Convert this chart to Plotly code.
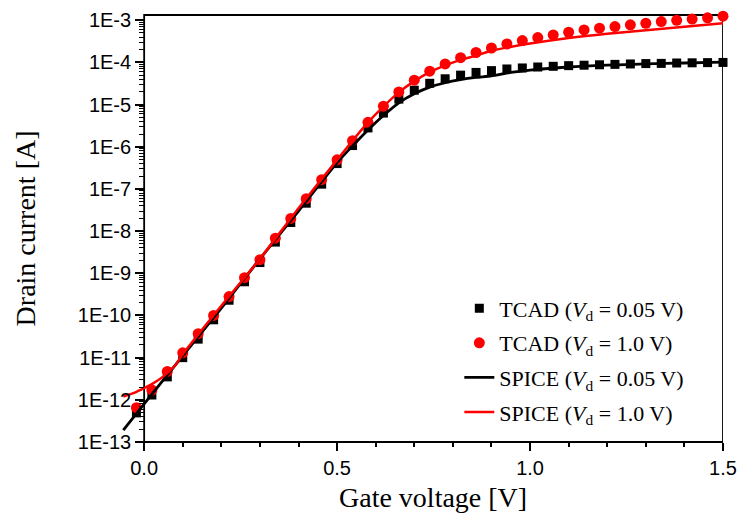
import plotly.graph_objects as go

# ---------------- data ----------------
tcad_vg = [-0.02, 0.02, 0.06, 0.10, 0.14, 0.18, 0.22, 0.26, 0.30, 0.34, 0.38, 0.42, 0.46,
           0.50, 0.54, 0.58, 0.62, 0.66, 0.70, 0.74, 0.78, 0.82, 0.86, 0.90, 0.94, 0.98,
           1.02, 1.06, 1.10, 1.14, 1.18, 1.22, 1.26, 1.30, 1.34, 1.38, 1.42, 1.46, 1.50]

tcad_id_005 = [4.9e-13, 1.3e-12, 3.5e-12, 1.0e-11, 2.75e-11, 7.9e-11, 2.3e-10, 6.3e-10,
               1.8e-9, 5.5e-9, 1.6e-8, 4.6e-8, 1.3e-7, 4.0e-7, 1.07e-6, 2.8e-6, 6.3e-6,
               1.35e-5, 2.2e-5, 3.2e-5, 4.1e-5, 5.0e-5, 5.8e-5, 6.4e-5, 7.0e-5, 7.4e-5,
               7.8e-5, 8.1e-5, 8.4e-5, 8.6e-5, 8.8e-5, 9.0e-5, 9.2e-5, 9.4e-5, 9.5e-5,
               9.7e-5, 9.8e-5, 9.9e-5, 1.0e-4]

tcad_id_10 = [6.5e-13, 1.7e-12, 4.7e-12, 1.3e-11, 3.7e-11, 1.0e-10, 2.8e-10, 7.9e-10,
              2.1e-9, 6.8e-9, 2.0e-8, 5.9e-8, 1.66e-7, 4.9e-7, 1.4e-6, 3.8e-6, 9.2e-6,
              2.0e-5, 3.8e-5, 6.2e-5, 9.2e-5, 1.3e-4, 1.72e-4, 2.2e-4, 2.75e-4, 3.3e-4,
              3.9e-4, 4.5e-4, 5.2e-4, 5.9e-4, 6.5e-4, 7.1e-4, 7.8e-4, 8.5e-4, 9.3e-4,
              1.0e-3, 1.07e-3, 1.14e-3, 1.25e-3]

spice_vg_005 = [-0.054, 0.0, 0.1, 0.2, 0.3, 0.4, 0.5, 0.54, 0.58, 0.62, 0.66, 0.70, 0.74,
                0.78, 0.82, 0.86, 0.90, 0.95, 1.0, 1.1, 1.2, 1.3, 1.4, 1.5]
spice_id_005 = [1.9e-13, 8.0e-13, 1.1e-11, 1.5e-10, 2.2e-9, 3.0e-8, 4.2e-7, 1.05e-6,
                2.5e-6, 5.5e-6, 1.1e-5, 1.8e-5, 2.6e-5, 3.3e-5, 3.9e-5, 4.4e-5, 4.8e-5,
                5.8e-5, 6.6e-5, 7.8e-5, 8.6e-5, 9.2e-5, 9.7e-5, 1.02e-4]

spice_vg_10 = [-0.054, -0.02, 0.0, 0.02, 0.05, 0.08, 0.10, 0.2, 0.3, 0.4, 0.5, 0.54, 0.58,
               0.62, 0.66, 0.70, 0.74, 0.78, 0.82, 0.86, 0.90, 1.0, 1.1, 1.2, 1.3, 1.4, 1.5]
spice_id_10 = [1.2e-12, 1.55e-12, 1.9e-12, 2.35e-12, 3.6e-12, 6.5e-12, 1.2e-11, 1.7e-10,
               2.2e-9, 3.5e-8, 4.9e-7, 1.4e-6, 3.8e-6, 9.0e-6, 1.95e-5, 3.6e-5, 5.9e-5,
               8.5e-5, 1.15e-4, 1.45e-4, 1.9e-4, 2.8e-4, 3.8e-4, 4.8e-4, 5.8e-4, 7.0e-4,
               8.5e-4]

x_ticks = [0.0, 0.5, 1.0, 1.5]
x_ticktext = ["0.0", "0.5", "1.0", "1.5"]
x_minor = [0.1, 0.2, 0.3, 0.4, 0.6, 0.7, 0.8, 0.9, 1.1, 1.2, 1.3, 1.4]
y_exps = [-13, -12, -11, -10, -9, -8, -7, -6, -5, -4, -3]
y_ticks = [10.0 ** e for e in y_exps]
y_ticktext = ["1E%d" % e for e in y_exps]
y_minor = [m * 10.0 ** e for e in y_exps[:-1] for m in range(2, 10)]

legend_names = [
    "TCAD (<i>V</i><sub>d</sub> = 0.05 V)",
    "TCAD (<i>V</i><sub>d</sub> = 1.0 V)",
    "SPICE (<i>V</i><sub>d</sub> = 0.05 V)",
    "SPICE (<i>V</i><sub>d</sub> = 1.0 V)",
]

X_RANGE = [-0.06, 1.5]
Y_RANGE = [-13, -2.875]

# ---------------- figure ----------------
fig = go.Figure()
fig.add_trace(go.Scatter(x=tcad_vg, y=tcad_id_005, mode="markers", name=legend_names[0],
                         legendgroup="a",
                         marker=dict(symbol="square", size=9, color="black"), cliponaxis=False))
fig.add_trace(go.Scatter(x=tcad_vg, y=tcad_id_10, mode="markers", name=legend_names[1],
                         legendgroup="b",
                         marker=dict(symbol="circle", size=11, color="#ff0000"), cliponaxis=False))
fig.add_trace(go.Scatter(x=spice_vg_005, y=spice_id_005, mode="lines", name=legend_names[2],
                         legendgroup="c",
                         line=dict(color="black", width=2.8, shape="spline", smoothing=0.6)))
fig.add_trace(go.Scatter(x=spice_vg_10, y=spice_id_10, mode="lines", name=legend_names[3],
                         legendgroup="d",
                         line=dict(color="#ff0000", width=2.5, shape="spline", smoothing=0.6)))

tick_font = dict(family="Liberation Sans, Arial, sans-serif", size=20, color="black")

fig.update_layout(
    width=739, height=527,
    margin=dict(l=121, r=16, t=15, b=85, autoexpand=False),
    paper_bgcolor="white", plot_bgcolor="white",
    showlegend=True,
    legend=dict(x=0.562, y=0.362, xanchor="left", yanchor="top",
                font=dict(family="Liberation Serif, Times New Roman, serif", size=22, color="black"),
                bgcolor="rgba(0,0,0,0)", borderwidth=0, tracegroupgap=3),
    xaxis=dict(range=X_RANGE, showgrid=False, zeroline=False, showline=False, automargin=False,
               tickmode="array", tickvals=x_ticks, ticktext=x_ticktext,
               ticks="outside", ticklen=8, tickwidth=1.5, tickcolor="black",
               tickfont=tick_font,
               minor=dict(tickmode="array", tickvals=x_minor, ticks="outside",
                          ticklen=4, tickwidth=1.5, tickcolor="black", showgrid=False)),
    xaxis2=dict(range=X_RANGE, overlaying="x", side="top", anchor="y", automargin=False,
                showgrid=False, zeroline=False, showline=False, showticklabels=False,
                tickmode="array", tickvals=x_ticks + x_minor, ticks="outside",
                ticklen=2, tickwidth=1.2, tickcolor="black"),
    yaxis=dict(type="log", range=Y_RANGE, showgrid=False, zeroline=False, showline=False,
               automargin=False,
               anchor="free", position=(0 - X_RANGE[0]) / (X_RANGE[1] - X_RANGE[0]),
               tickmode="array", tickvals=y_ticks, ticktext=y_ticktext,
               ticks="outside", ticklen=9, tickwidth=1.5, tickcolor="black",
               tickfont=tick_font,
               minor=dict(tickmode="array", tickvals=y_minor, ticks="outside",
                          ticklen=5, tickwidth=1.2, tickcolor="black", showgrid=False)),
    yaxis2=dict(type="log", range=Y_RANGE, overlaying="y", side="right", anchor="x",
                automargin=False,
                showgrid=False, zeroline=False, showline=False, showticklabels=False,
                tickmode="array", tickvals=y_ticks, ticks="inside", ticklen=9,
                tickwidth=1.5, tickcolor="black",
                minor=dict(tickmode="array", tickvals=y_minor, ticks="inside",
                           ticklen=5, tickwidth=1.2, tickcolor="black", showgrid=False)),
)

# frame from Vg = 0 to 1.5
fig.add_shape(type="rect", xref="x", yref="paper", x0=0, x1=1.5, y0=0, y1=1,
              line=dict(color="black", width=1.8), layer="below")

# axis titles
title_font = dict(family="Liberation Serif, Times New Roman, serif", size=28, color="black")
fig.add_annotation(text="Drain current [A]", xref="paper", yref="paper", x=-0.158, y=0.5,
                   textangle=-90, showarrow=False, font=title_font,
                   xanchor="center", yanchor="middle")
fig.add_annotation(text="Gate voltage [V]", xref="paper", yref="paper", x=0.519, y=-0.13,
                   showarrow=False, font=title_font, xanchor="center", yanchor="middle")

fig.write_html("out.html")
